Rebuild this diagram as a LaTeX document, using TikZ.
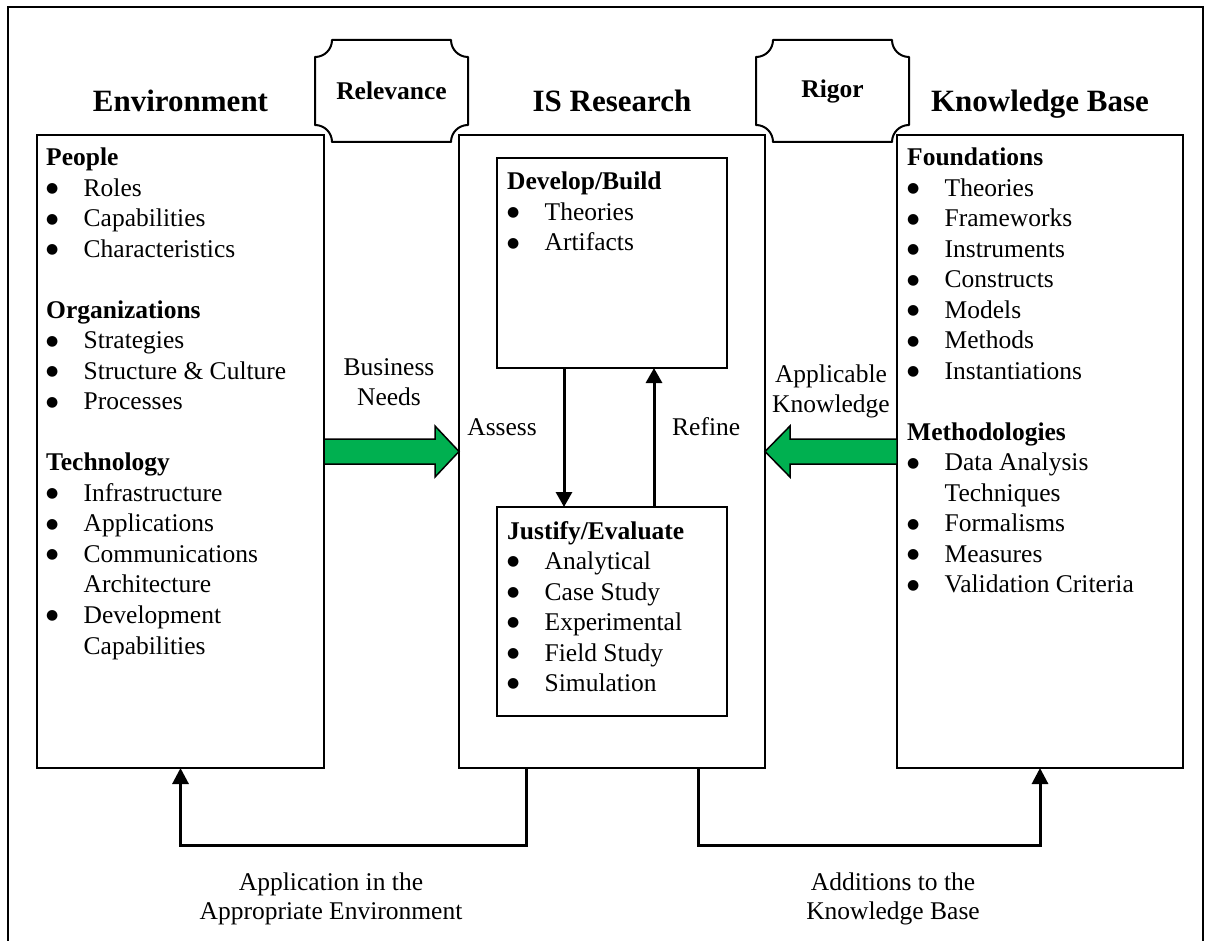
\documentclass[tikz,border=0pt]{standalone}
\usepackage{fontspec}
\setmainfont{Liberation Serif}
\newfontfamily\dotfont{DejaVu Sans}
\usetikzlibrary{calc,arrows.meta}
\definecolor{arrowgreen}{HTML}{00B050}

% text sizes (1pt = one unit of the drawing)
\newcommand{\bodyfont}{\fontsize{25.5}{30.5}\selectfont}
\newcommand{\titlefont}{\fontsize{31}{36}\selectfont\bfseries}
\newcommand{\tagfont}{\fontsize{25.5}{30}\selectfont\bfseries}

% bulleted list entries and their wrapped continuation lines
\newcommand{\bigbullet}{\raisebox{3.8pt}{\dotfont\fontsize{14}{14}\selectfont ●}}
\newcommand{\bitem}[1]{\makebox[37.5pt][l]{\bigbullet}#1}
\newcommand{\bcont}[1]{\hspace*{37.5pt}#1}

% plaque outline (rectangle with concave corners) around a named node
\newcommand{\plaque}[2]{%
  \draw[plaqueline]
    ($(#1.north west)+(#2,0)$) -- ($(#1.north east)+(-#2,0)$)
    .. controls ($(#1.north east)+(-#2,0.552*#2)$) and ($(#1.north east)+(-0.552*#2,#2)$) .. ($(#1.north east)+(0,#2)$)
    -- ($(#1.south east)+(0,-#2)$)
    .. controls ($(#1.south east)+(-0.552*#2,-#2)$) and ($(#1.south east)+(-#2,-0.552*#2)$) .. ($(#1.south east)+(-#2,0)$)
    -- ($(#1.south west)+(#2,0)$)
    .. controls ($(#1.south west)+(#2,-0.552*#2)$) and ($(#1.south west)+(0.552*#2,-#2)$) .. ($(#1.south west)+(0,-#2)$)
    -- ($(#1.north west)+(0,#2)$)
    .. controls ($(#1.north west)+(0.552*#2,#2)$) and ($(#1.north west)+(#2,0.552*#2)$) .. cycle;
}

\begin{document}
\begin{tikzpicture}[x=1pt,y=-1pt,
  frameline/.style={line width=2pt},
  bigbox/.style={draw, line width=2pt, inner sep=0pt, outer sep=0pt},
  plaqueline/.style={line width=2pt, line join=round},
  plaquetext/.style={inner sep=0pt, outer sep=0pt, font=\tagfont},
  titletext/.style={inner sep=0pt, font=\titlefont},
  listtext/.style={inner sep=0pt, font=\bodyfont},
  labeltext/.style={inner sep=0pt, font=\bodyfont},
  innerarrow/.style={line width=3pt, -{Triangle[length=15pt,width=16pt]}},
  loopline/.style={line width=3pt, -{Triangle[length=16pt,width=16pt]}},
  greenarrow/.style={fill=arrowgreen, draw=black, line width=1.5pt, line join=miter}]

\useasboundingbox (0,0) rectangle (1209,941);
\fill[white] (0,0) rectangle (1209,941);

% outer frame, open at the bottom
\draw[frameline] (8,941) -- (8,7) -- (1203,7) -- (1203,941);

% relevance / rigor plaques
\node[plaquetext, minimum width=153pt, minimum height=102pt] (relevance) at (391.5,91) {Relevance};
\plaque{relevance}{17}
\node[plaquetext, minimum width=153pt, minimum height=102pt] (rigor) at (832.5,91) {Rigor};
\plaque{rigor}{17}

% column titles
\node[titletext, anchor=base] (envtitle) at (180.5,112) {Environment};
\node[titletext, anchor=base] (isrtitle) at (612,112) {IS Research};
\node[titletext, anchor=base] (kbtitle) at (1040,112) {Knowledge Base};

% the three main columns
\node[bigbox, minimum width=287pt, minimum height=633pt] (env) at (180.5,451.5) {};
\node[bigbox, minimum width=306pt, minimum height=633pt] (isr) at (612,451.5) {};
\node[bigbox, minimum width=286pt, minimum height=633pt] (kb) at (1040,451.5) {};

% inner boxes of IS Research
\node[bigbox, minimum width=230pt, minimum height=210pt] (db) at (612,263) {};
\node[bigbox, minimum width=230pt, minimum height=209pt] (je) at (612,611.5) {};

% environment list
\node[listtext, anchor=base west] (envlist) at (46,166) {\begin{tabular}[t]{@{}l@{}}
\textbf{People}\\
\bitem{Roles}\\
\bitem{Capabilities}\\
\bitem{Characteristics}\\
\\
\textbf{Organizations}\\
\bitem{Strategies}\\
\bitem{Structure \& Culture}\\
\bitem{Processes}\\
\\
\textbf{Technology}\\
\bitem{Infrastructure}\\
\bitem{Applications}\\
\bitem{Communications}\\
\bcont{Architecture}\\
\bitem{Development}\\
\bcont{Capabilities}
\end{tabular}};

% knowledge base list
\node[listtext, anchor=base west] (kblist) at (907,166) {\begin{tabular}[t]{@{}l@{}}
\textbf{Foundations}\\
\bitem{Theories}\\
\bitem{Frameworks}\\
\bitem{Instruments}\\
\bitem{Constructs}\\
\bitem{Models}\\
\bitem{Methods}\\
\bitem{Instantiations}\\
\\
\textbf{Methodologies}\\
\bitem{Data Analysis}\\
\bcont{Techniques}\\
\bitem{Formalisms}\\
\bitem{Measures}\\
\bitem{Validation Criteria}
\end{tabular}};

% develop/build list
\node[listtext, anchor=base west] (dblist) at (507,190) {\begin{tabular}[t]{@{}l@{}}
\textbf{Develop/Build}\\
\bitem{Theories}\\
\bitem{Artifacts}
\end{tabular}};

% justify/evaluate list
\node[listtext, anchor=base west] (jelist) at (507,539) {\begin{tabular}[t]{@{}l@{}}
\textbf{Justify/Evaluate}\\
\bitem{Analytical}\\
\bitem{Case Study}\\
\bitem{Experimental}\\
\bitem{Field Study}\\
\bitem{Simulation}
\end{tabular}};

% green flow arrows into IS Research
\draw[greenarrow] ($(env.east)+(0,-12.5)$) -- ($(isr.west)+(-24,-12.5)$) -- ($(isr.west)+(-24,-25.5)$)
  -- (isr.west) -- ($(isr.west)+(-24,25.5)$) -- ($(isr.west)+(-24,12.5)$) -- ($(env.east)+(0,12.5)$) -- cycle;
\draw[greenarrow] ($(kb.west)+(0,-12.5)$) -- ($(isr.east)+(25,-12.5)$) -- ($(isr.east)+(25,-25.5)$)
  -- (isr.east) -- ($(isr.east)+(25,25.5)$) -- ($(isr.east)+(25,12.5)$) -- ($(kb.west)+(0,12.5)$) -- cycle;

\node[labeltext, anchor=base] (needs) at (389,375) {\begin{tabular}[t]{@{}c@{}}Business\\Needs\end{tabular}};
\node[labeltext, anchor=base] (applicable) at (831,382) {\begin{tabular}[t]{@{}c@{}}Applicable\\Knowledge\end{tabular}};

% assess / refine cycle
\draw[innerarrow] ($(db.south west)+(67,0)$) -- ($(je.north west)+(67,0)$);
\draw[innerarrow] ($(je.north west)+(157,0)$) -- ($(db.south west)+(157,0)$);
\node[labeltext, anchor=base east] (assess) at (537,435) {Assess};
\node[labeltext, anchor=base west] (refine) at (672,435) {Refine};

% feedback loops at the bottom
\draw[loopline] ($(isr.south west)+(67,0)$) -- ++(0,77) -| (env.south);
\draw[loopline] ($(isr.south east)+(-67,0)$) -- ++(0,77) -| (kb.south);

\node[labeltext, anchor=base] (application) at (331,890) {\begin{tabular}[t]{@{}c@{}}Application in the\\[-1.5pt]Appropriate Environment\end{tabular}};
\node[labeltext, anchor=base] (additions) at (893,890) {\begin{tabular}[t]{@{}c@{}}Additions to the\\[-1.5pt]Knowledge Base\end{tabular}};

\end{tikzpicture}
\end{document}
